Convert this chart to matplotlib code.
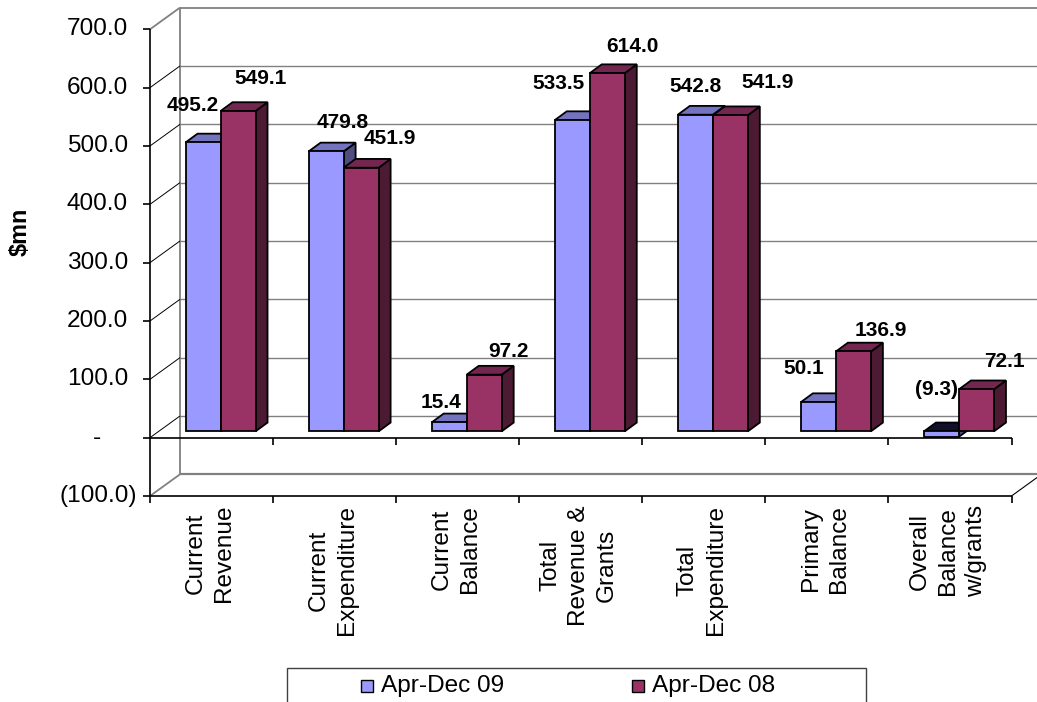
import matplotlib
matplotlib.use("Agg")
import matplotlib.pyplot as plt
from matplotlib.patches import Polygon, Rectangle
from matplotlib.transforms import blended_transform_factory

# ---------------- data ----------------
categories = ["Current\nRevenue", "Current\nExpenditure", "Current\nBalance",
              "Total\nRevenue &\nGrants", "Total\nExpenditure", "Primary\nBalance",
              "Overall\nBalance\nw/grants"]
series_names = ["Apr-Dec 09", "Apr-Dec 08"]
apr_dec_09 = [495.2, 479.8, 15.4, 533.5, 542.8, 50.1, -9.3]
apr_dec_08 = [549.1, 451.9, 97.2, 614.0, 541.9, 136.9, 72.1]
ytick_values = [-100, 0, 100, 200, 300, 400, 500, 600, 700]
ytick_labels = ["(100.0)", "-", "100.0", "200.0", "300.0", "400.0", "500.0", "600.0", "700.0"]
y_title = "$mn"

# label nudges in pixels (dx, dy up) relative to bar front-top centre
label_off_09 = [(-10, 37), (17, 29), (-8, 20), (-14, 37), (0, 28), (-15, 34), (-5, 42)]
label_off_08 = [(23, 33), (29, 29), (24, 23), (25, 27), (37, 33), (27, 21), (28, 28)]

# ---------------- styling ----------------
FONT = "Liberation Sans"
plt.rcParams["font.family"] = [FONT, "DejaVu Sans"]
BLUE = ("#9999FF", "#7373BF", "#4D4D80")
RED = ("#993366", "#732650", "#4D1A33")
NEG_TOP = "#10102a"
GRAY = "#808080"

W, H = 1037, 702
fig = plt.figure(figsize=(W / 100, H / 100), dpi=100)
X0, X1 = 150.0, 1011.5          # pixel columns of category axis ends (front plane)
Y_TOP, Y_BOT = 29.3, 496.0      # pixel rows of 700 and -100 (front plane)
ax = fig.add_axes([X0 / W, 1 - Y_BOT / H, (X1 - X0) / W, (Y_BOT - Y_TOP) / H])
n = len(categories)
ax.set_xlim(0, n)
ax.set_ylim(ytick_values[0], ytick_values[-1])
ax.axis("off")

sx = n / (X1 - X0)                                          # category units per pixel
sy = (ytick_values[-1] - ytick_values[0]) / (Y_BOT - Y_TOP)  # value units per pixel


def off(dxp, dyp):
    return dxp * sx, dyp * sy


wdx, wdy = off(30, 21.7)      # wall depth
ymin, ymax = ytick_values[0], ytick_values[-1]


def line(xs, ys, color, lw, z=1):
    ax.plot(xs, ys, color=color, lw=lw, clip_on=False, zorder=z, solid_capstyle="butt")


# back wall & floor
line([wdx, wdx], [ymin + wdy, ymax + wdy], GRAY, 1.3)
for v in ytick_values[1:]:
    line([wdx, n + wdx + 1], [v + wdy, v + wdy], GRAY, 1.3 if v == ymax else 1.0)
line([wdx, n + wdx + 1], [ymin + wdy, ymin + wdy], GRAY, 1.6)
line([0, wdx], [ymin, ymin + wdy], GRAY, 1.3)
line([0, wdx], [ymax, ymax + wdy], GRAY, 1.3)
line([n, n + wdx], [ymin, ymin + wdy], "black", 0.8)
for v in ytick_values[1:-1]:
    line([0, wdx], [v, v + wdy], "black", 0.7)

# front axes
tkx, tky = off(7, 7)
line([0, 0], [ymin, ymax], "black", 1.2, 5)
for v in ytick_values:
    line([-tkx, 0], [v, v], "black", 1.2, 5)
line([0, n], [0, 0], "black", 1.2, 5)
line([0, n], [ymin, ymin], "black", 1.2, 5)
for i in range(n + 1):
    if i > 0:
        line([i, i], [0, -tky], "black", 1.2, 5)
    line([i, i], [ymin, ymin - tky], "black", 1.2, 5)

# bars
wc = 35 * sx
bdx, bdy = off(9, 6.3)       # front face depth offset
ddx, ddy = off(12, 8.8)      # bar depth


def fmt(v):
    return f"({abs(v):.1f})" if v < 0 else f"{v:.1f}"


def draw_bar(left, v, cols, z, lab_off):
    base = bdy
    ax.bar(left, v, width=wc, bottom=base, align="edge", color=cols[0],
           edgecolor="black", linewidth=1.3, zorder=z + 0.2)
    top = base + max(v, 0)
    bot = base + min(v, 0)
    tcol = cols[1] if v >= 0 else NEG_TOP
    ax.add_patch(Polygon([(left, top), (left + wc, top), (left + wc + ddx, top + ddy),
                          (left + ddx, top + ddy)], closed=True, facecolor=tcol,
                         edgecolor="black", lw=1.3, zorder=z + 0.1, clip_on=False))
    ax.add_patch(Polygon([(left + wc, bot), (left + wc + ddx, bot + ddy),
                          (left + wc + ddx, top + ddy), (left + wc, top)], closed=True,
                         facecolor=cols[2], edgecolor="black", lw=1.3, zorder=z,
                         clip_on=False))
    ax.annotate(fmt(v), xy=(left + wc / 2, top), xytext=lab_off,
                textcoords="offset pixels", ha="center", va="center",
                fontsize=15, fontweight="bold", color="black", zorder=10,
                annotation_clip=False)


for i in range(n):
    c = i + 0.5
    draw_bar(c - wc + bdx, apr_dec_09[i], BLUE, 3, label_off_09[i])
    draw_bar(c + bdx, apr_dec_08[i], RED, 4, label_off_08[i])

# y tick labels
tr_y = blended_transform_factory(fig.transFigure, ax.transData)
for v, lab in zip(ytick_values, ytick_labels):
    if lab.startswith("("):
        xr = 137
    elif lab == "-":
        xr = 101
    else:
        xr = 128
    ax.text(xr / W, v, lab, transform=tr_y, ha="right", va="center",
            fontsize=17.6, clip_on=False)

# category labels
tr_x = blended_transform_factory(ax.transData, fig.transFigure)
for i, cat in enumerate(categories):
    ax.text(i + 0.5 - 2 * sx, 1 - 505 / H, cat, transform=tr_x, rotation=90,
            ha="center", va="top", multialignment="center", fontsize=17.6,
            linespacing=1.38, clip_on=False)

# y axis title
fig.text(20 / W, 1 - 232 / H, y_title, rotation=90, ha="center", va="center",
         fontsize=16.8, fontweight="bold", parse_math=False)

# legend
fig.add_artist(Rectangle((287 / W, 1 - 720 / H), (866 - 287) / W, (720 - 668) / H,
                         transform=fig.transFigure, facecolor="white",
                         edgecolor="#404040", lw=1.0))
for name, cols, xs in zip(series_names, (BLUE, RED), (361, 632)):
    fig.add_artist(Rectangle((xs / W, 1 - 692 / H), 12 / W, 12 / H,
                             transform=fig.transFigure, facecolor=cols[0],
                             edgecolor="black", lw=1.0))
    fig.text((xs + 20) / W, 1 - 686 / H, name, ha="left", va="center", fontsize=17.6)

fig.savefig("out.png", dpi=100)
